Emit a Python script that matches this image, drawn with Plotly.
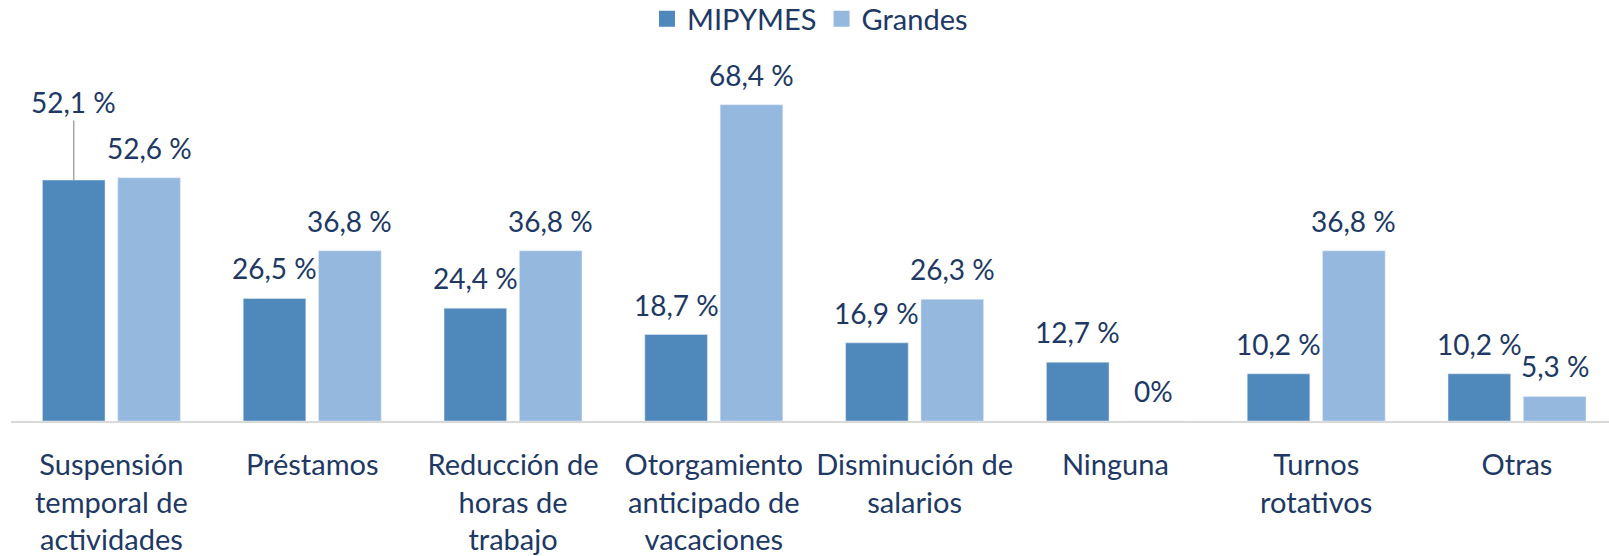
import plotly.graph_objects as go

categories = [
    "Suspensión<br>temporal de<br>actividades",
    "Préstamos",
    "Reducción de<br>horas de<br>trabajo",
    "Otorgamiento<br>anticipado de<br>vacaciones",
    "Disminución de<br>salarios",
    "Ninguna",
    "Turnos<br>rotativos",
    "Otras",
]
mipymes = [52.1, 26.5, 24.4, 18.7, 16.9, 12.7, 10.2, 10.2]
grandes = [52.6, 36.8, 36.8, 68.4, 26.3, 0.0, 36.8, 5.3]
series_names = ["MIPYMES", "Grandes"]

C_MIP = "#4F88BB"
C_GRA = "#95B8DF"
TXT = "#203864"
FONT = "Lato"

W, H = 1609, 556
ML, MR, MT, MB = 11, 0, 51, 135
CAT_PX = 200.8
BARGAP = 0.2495
GROUPGAP = 0.169

xpos = list(range(len(categories)))
x_max = (W - ML - MR) / CAT_PX - 0.5
slot = (1 - BARGAP) / 2


def fmt(v):
    if v == 0:
        return "0%"
    return f"{v:.1f}".replace(".", ",") + " %"


fig = go.Figure()
fig.add_trace(go.Bar(x=xpos, y=mipymes, name=series_names[0], marker_color=C_MIP,
                     showlegend=False))
fig.add_trace(go.Bar(x=xpos, y=grandes, name=series_names[1], marker_color=C_GRA,
                     showlegend=False))
# legend entries
for nm, col in zip(series_names, [C_MIP, C_GRA]):
    fig.add_trace(go.Scatter(x=[None], y=[None], mode="markers", name=nm,
                             marker=dict(symbol="square", size=16, color=col)))

annotations = []
for s, (vals, off) in enumerate([(mipymes, -slot / 2), (grandes, slot / 2)]):
    for i, v in enumerate(vals):
        if s == 0 and i == 0:
            annotations.append(dict(
                x=i + off, y=v, xref="x", yref="y", text=fmt(v),
                showarrow=True, ax=0, ay=-78, arrowhead=0, arrowwidth=1.5,
                arrowcolor="#A6A6A6", standoff=0,
                font=dict(family=FONT, size=28, color=TXT)))
        else:
            annotations.append(dict(
                x=i + off, y=v, xref="x", yref="y", text=fmt(v),
                showarrow=False, yanchor="middle", yshift=30,
                font=dict(family=FONT, size=28, color=TXT)))

fig.update_layout(
    width=W, height=H,
    margin=dict(l=ML, r=MR, t=MT, b=MB),
    paper_bgcolor="white", plot_bgcolor="white",
    barmode="group", bargap=BARGAP, bargroupgap=GROUPGAP,
    font=dict(family=FONT, color=TXT, size=28),
    showlegend=True,
    legend=dict(orientation="h", xref="container", yref="container",
                x=810 / W, y=1 - 19 / H, xanchor="center", yanchor="middle",
                font=dict(family=FONT, size=29, color=TXT)),
    xaxis=dict(range=[-0.5, x_max], tickvals=xpos, ticktext=categories,
               tickangle=0, showline=True, linecolor="#D9D9D9", linewidth=2,
               showgrid=False, zeroline=False, ticks="", automargin=False,
               ticklabelstandoff=17,
               tickfont=dict(family=FONT, size=29, color=TXT)),
    yaxis=dict(range=[0, 80], visible=False, showgrid=False, zeroline=False,
               automargin=False),
    annotations=annotations,
)

fig.write_html(
    "out.html",
    config={"displayModeBar": False},
    post_script="document.body.style.margin='0';document.body.style.overflow='hidden';",
)
